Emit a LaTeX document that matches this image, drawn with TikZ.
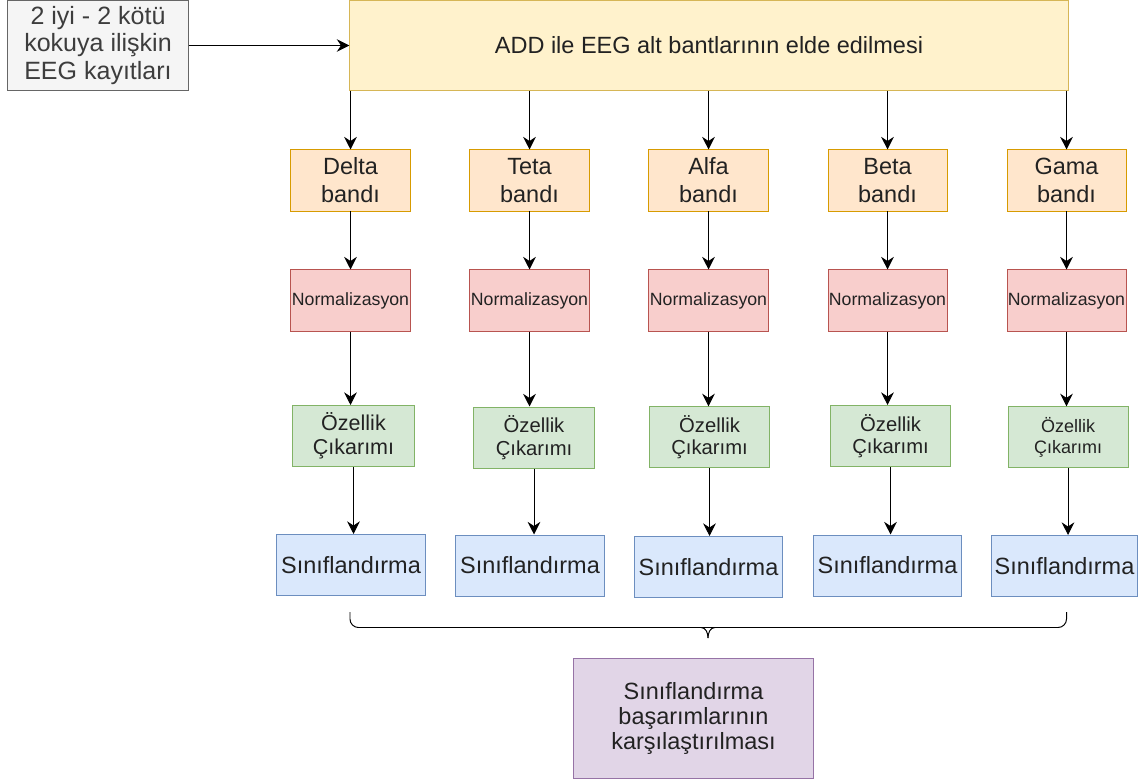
\documentclass[tikz,border=0pt]{standalone}
\usepackage{fontspec}
\setmainfont{Liberation Sans}
\usetikzlibrary{arrows.meta}
\definecolor{grayfill}{HTML}{F5F5F5}\definecolor{graydraw}{HTML}{666666}
\definecolor{yelfill}{HTML}{FFF2CC}\definecolor{yeldraw}{HTML}{D6B656}
\definecolor{orafill}{HTML}{FFE6CC}\definecolor{oradraw}{HTML}{D79B00}
\definecolor{redfill}{HTML}{F8CECC}\definecolor{reddraw}{HTML}{B85450}
\definecolor{grnfill}{HTML}{D5E8D4}\definecolor{grndraw}{HTML}{82B366}
\definecolor{blufill}{HTML}{DAE8FC}\definecolor{bludraw}{HTML}{6C8EBF}
\definecolor{purfill}{HTML}{E1D5E7}\definecolor{purdraw}{HTML}{9673A6}
\definecolor{txt}{HTML}{222222}
\begin{document}
\begin{tikzpicture}[x=0.025cm, y=-0.025cm, >={Stealth[length=9pt,width=9pt,inset=3pt]},
  line width=0.7pt, text=txt,
  box/.style={draw=#1draw, fill=#1fill, inner sep=0pt, align=center,
    font=\fontsize{16.7}{19.9}\selectfont},
  band/.style={box=ora, minimum width=2.975cm, minimum height=1.525cm},
  norm/.style={box=red, minimum width=2.975cm, minimum height=1.525cm,
    font=\fontsize{12.6}{15}\selectfont},
  feat/.style={box=grn, minimum width=3.0cm, minimum height=1.525cm,
    font=\fontsize{14.4}{16.1}\selectfont},
  cls/.style={box=blu, minimum width=3.72cm, minimum height=1.525cm}]
  \useasboundingbox (0,0) rectangle (1139,781);
  \node[box=gray, text=graydraw!60!black, minimum width=4.5cm, minimum height=2.225cm,
    font=\fontsize{17.8}{19.6}\selectfont] (in) at (98,45.5) {2 iyi - 2 kötü\\kokuya ilişkin\\EEG kayıtları};
  \node[box=yel, minimum width=17.95cm, minimum height=2.225cm] (add) at (709,45.5) {ADD ile EEG alt bantlarının elde edilmesi};
  % bands
  \node[band] (dband) at (350.5,180.5) {Delta\\bandı};
  \node[band] (tband) at (529.5,180.5) {Teta\\bandı};
  \node[band] (aband) at (708.5,180.5) {Alfa\\bandı};
  \node[band] (bband) at (887.5,180.5) {Beta\\bandı};
  \node[band] (gband) at (1066.5,180.5) {Gama\\bandı};
  % normalization
  \node[norm] (dnorm) at (350.5,300.5) {Normalizasyon};
  \node[norm] (tnorm) at (529.5,300.5) {Normalizasyon};
  \node[norm] (anorm) at (708.5,300.5) {Normalizasyon};
  \node[norm] (bnorm) at (887.5,300.5) {Normalizasyon};
  \node[norm] (gnorm) at (1066.5,300.5) {Normalizasyon};
  % features
  \node[feat, minimum width=3.025cm, font=\fontsize{15.3}{17}\selectfont] (dfeat) at (353.5,436) {Özellik\\Çıkarımı};
  \node[feat] (tfeat) at (534,437.5) {Özellik\\Çıkarımı};
  \node[feat] (afeat) at (709.5,437.3) {Özellik\\Çıkarımı};
  \node[feat] (bfeat) at (890.5,436) {Özellik\\Çıkarımı};
  \node[feat, font=\fontsize{12.8}{15.5}\selectfont] (gfeat) at (1068,437.3) {Özellik\\Çıkarımı};
  % classifiers
  \node[cls] (dcls) at (351,565) {Sınıflandırma};
  \node[cls] (tcls) at (530,565.5) {Sınıflandırma};
  \node[cls] (acls) at (708.5,567) {Sınıflandırma};
  \node[cls] (bcls) at (887.5,565.5) {Sınıflandırma};
  \node[cls, minimum width=3.625cm] (gcls) at (1064.5,566) {Sınıflandırma};
  \node[box=pur, minimum width=5.975cm, minimum height=2.975cm,
    font=\fontsize{16.7}{18.1}\selectfont] (cmp) at (693.5,718.5) {Sınıflandırma\\başarımlarının\\karşılaştırılması};
  % edges
  \draw[->] (in) -- (add);
  \foreach \c in {d,t,a,b,g}{
    \draw[->] (\c band |- add.south) -- (\c band);
    \draw[->] (\c band) -- (\c norm);
    \draw[->] (\c norm) -- (\c norm |- \c feat.north);
    \draw[->] (\c feat) -- (\c feat |- \c cls.north);
  }
  % brace
  \coordinate (bl) at (350,612);
  \coordinate (br) at (1066.5,612);
  \coordinate (bm) at (708,638);
  \draw[rounded corners=6pt] (bl) -- (bl |- 0,627.5) -- (br |- 0,627.5) -- (br);
  \draw (bm) to[out=90,in=0] ++(-7,-10.5);
  \draw (bm) to[out=90,in=180] ++(7,-10.5);
\end{tikzpicture}
\end{document}
